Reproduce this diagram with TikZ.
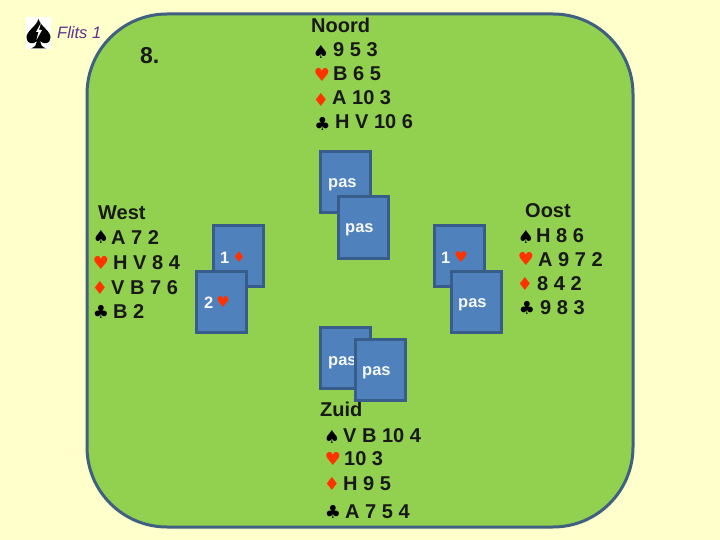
\documentclass[tikz,border=0pt]{standalone}
\usepackage{fontspec}
\usepackage{xcolor}
\setmainfont{Liberation Sans}
\newfontfamily\suitfont{DejaVu Sans}
\usetikzlibrary{positioning}
\definecolor{paper}{HTML}{FFFFCC}
\definecolor{baize}{HTML}{92D050}
\definecolor{rim}{HTML}{3F6080}
\definecolor{cardblue}{HTML}{4F81BD}
\definecolor{cardrim}{HTML}{385D8A}
\definecolor{redsuit}{HTML}{FF3300}
\definecolor{flitspurple}{HTML}{5F3090}
\tikzset{
  handtext/.style={anchor=base west,inner sep=0pt,font=\bfseries\fontsize{20}{24}\selectfont,text=black!90},
  suit/.style={inner sep=0pt,font=\suitfont\fontsize{18}{20}\selectfont,text=black},
  redmark/.style={suit,text=redsuit},
  biedcard/.style={draw=cardrim,line width=3pt,fill=cardblue,minimum width=50pt,minimum height=61pt,inner sep=0pt},
  biedtext/.style={anchor=base west,inner sep=0pt,font=\bfseries\fontsize{16.5}{19}\selectfont,text=white!95!cardblue},
}
\begin{document}
\begin{tikzpicture}[x=1pt,y=-1pt]
  \useasboundingbox (0,0) rectangle (720,540);
  \fill[paper] (0,0) rectangle (720,540);
  \draw[rim,fill=baize,line width=3pt,rounded corners=80pt] (87,14) rectangle (633,527);
  % Spade icon
  \fill[white] (26,17) rectangle (51,49);
  \fill[black] (38.5,19) .. controls (36,27) and (26,31) .. (26.5,38) .. controls (27,44) and (33,45) .. (37,41) .. controls (37,44) and (35,47) .. (31,48.5) -- (46,48.5) .. controls (42,47) and (40,44) .. (40,41) .. controls (44,45) and (50,44) .. (50.5,38) .. controls (51,31) and (41,27) .. (38.5,19) -- cycle;
  \fill[white] (41,23) -- (36,32) -- (38.5,32) -- (36.5,40) -- (42,30) -- (39,30) -- cycle;
  \node[anchor=base west,inner sep=0pt,text=flitspurple,font=\itshape\fontsize{16.5}{20}\selectfont] (flits) at (57,39) {Flits 1};
  \node[handtext,font=\bfseries\fontsize{23}{26}\selectfont] (spel) at (140,64) {8.};
  % Noord
  \node[handtext] (noord) at (311,33) {Noord};
  \node[suit] (ns) at (321,51.5) {♠};
  \node[handtext] (nst) at (333,57) {9 5 3};
  \node[redmark] (nh) at (322,75) {♥};
  \node[handtext] (nht) at (333,81) {B 6 5};
  \node[redmark] (nd) at (321,99.5) {♦};
  \node[handtext] (ndt) at (332,105) {A 10 3};
  \node[suit] (nc) at (322.5,123.5) {♣};
  \node[handtext] (nct) at (335,129) {H V 10 6};
  % West
  \node[handtext] (west) at (98,219) {West};
  \node[suit] (ws) at (101,237) {♠};
  \node[handtext] (wst) at (111,244) {A 7 2};
  \node[redmark] (wh) at (101,263) {♥};
  \node[handtext] (wht) at (113,269) {H V 8 4};
  \node[redmark] (wd) at (100,288) {♦};
  \node[handtext] (wdt) at (111,294) {V B 7 6};
  \node[suit] (wc) at (101,312) {♣};
  \node[handtext] (wct) at (113,318) {B 2};
  % Oost
  \node[handtext] (oost) at (525,218) {Oost};
  \node[suit] (os) at (526,237) {♠};
  \node[handtext] (ost) at (536,242) {H 8 6};
  \node[redmark] (oh) at (526,259) {♥};
  \node[handtext] (oht) at (538,266) {A 9 7 2};
  \node[redmark] (od) at (525,284) {♦};
  \node[handtext] (odt) at (537,290) {8 4 2};
  \node[suit] (oc) at (527,308) {♣};
  \node[handtext] (oct) at (540,314) {9 8 3};
  % Zuid
  \node[handtext] (zuid) at (320,416) {Zuid};
  \node[suit] (zs) at (332,437) {♠};
  \node[handtext] (zst) at (343,442) {V B 10 4};
  \node[redmark] (zh) at (333,459) {♥};
  \node[handtext] (zht) at (344,465) {10 3};
  \node[redmark] (zd) at (332,484) {♦};
  \node[handtext] (zdt) at (343,490) {H 9 5};
  \node[suit] (zc) at (333,512) {♣};
  \node[handtext] (zct) at (345,518) {A 7 5 4};
  % Bidding cards, in the order they were laid
  \node[biedcard] (card1) at (345.5,182) {};
  \node[biedtext] (pas1) at (328,188) {pas};
  \node[biedcard] (card2) at (363,227.5) {};
  \node[biedtext] (pas2) at (345,233) {pas};
  \node[biedcard] (card3) at (238.5,256) {};
  \node[biedtext] (een1) at (220,263) {1};
  \node[redmark,font=\suitfont\fontsize{15}{18}\selectfont] (een1d) at (239,257.5) {♦};
  \node[biedcard] (card4) at (221,301.5) {};
  \node[biedtext] (twee) at (204,308) {2};
  \node[redmark,font=\suitfont\fontsize{15}{18}\selectfont] (tweeh) at (223,302) {♥};
  \node[biedcard] (card5) at (459,256) {};
  \node[biedtext] (een2) at (441,263) {1};
  \node[redmark,font=\suitfont\fontsize{15}{18}\selectfont] (een2h) at (461,257) {♥};
  \node[biedcard] (card6) at (476,301.5) {};
  \node[biedtext] (pas3) at (458,307) {pas};
  \node[biedcard] (card7) at (345.5,358) {};
  \node[biedtext] (pas4) at (328,365) {pas};
  \node[biedcard] (card8) at (380.5,369.5) {};
  \node[biedtext] (pas5) at (362,375) {pas};
\end{tikzpicture}
\end{document}
